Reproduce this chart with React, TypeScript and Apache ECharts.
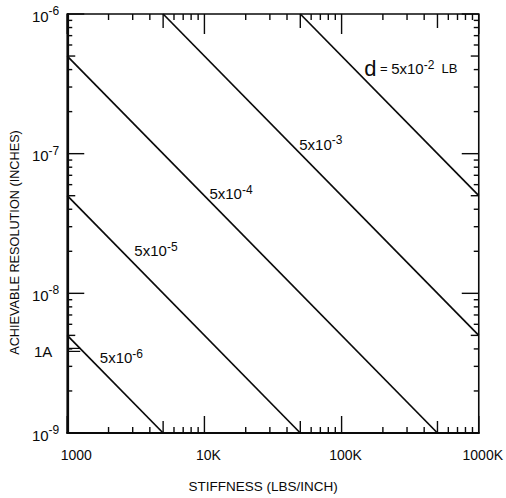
import React, { useEffect, useRef } from "react";
import * as echarts from "echarts";

const FONT = "'Liberation Sans', Arial, sans-serif";

// Axis ranges
const X_MIN = 1000;
const X_MAX = 1000000;
const Y_MIN = 1e-9;
const Y_MAX = 1e-6;

// x tick labels
const xTickLabels: Record<number, string> = { 1000: "1000", 10000: "10K", 100000: "100K", 1000000: "1000K" };

// Line series: endpoints [stiffness, resolution]
const loadNames = ["5x10^-6", "5x10^-5", "5x10^-4", "5x10^-3", "5x10^-2"];
const line6 = [[1000, 5e-9], [5000, 1e-9]];
const line5 = [[1000, 5e-8], [50000, 1e-9]];
const line4 = [[1000, 5e-7], [500000, 1e-9]];
const line3 = [[5000, 1e-6], [1000000, 5e-9]];
const line2 = [[50000, 1e-6], [1000000, 5e-8]];
const lines = [line6, line5, line4, line3, line2];

// Label anchors in data space (stiffness, resolution)
const labelK = [1728, 3085, 10870, 49100, 146000];
const labelR = [3.45e-9, 2.01e-8, 5.15e-8, 1.17e-7, 4.04e-7];
const labelTexts = [
  "{a|5x10}{s|-6}",
  "{a|5x10}{s|-5}",
  "{a|5x10}{s|-4}",
  "{a|5x10}{s|-3}",
  "{d|d}{m| = }{a|5x10}{s|-2}{l|  LB}",
];

// Angstrom marker (1 A = 3.937e-9 inch)
const ANGSTROM_IN = 3.937e-9;

// tick values (decades and 2..9 minors)
const xDecades = [1000, 10000, 100000];
const yDecades = [1e-9, 1e-8, 1e-7];
const mantissas = [1, 2, 3, 4, 5, 6, 7, 8, 9];

function tickValues(decades: number[], last: number) {
  const out: number[] = [];
  decades.forEach((d) => mantissas.forEach((m) => out.push(m * d)));
  out.push(last);
  return out;
}
const xTicks = tickValues(xDecades, X_MAX);
const yTicks = tickValues(yDecades, Y_MAX);

function mantissaOf(v: number) {
  const e = Math.floor(Math.log10(v) + 1e-9);
  return Math.round(v / Math.pow(10, e));
}

const INK = "#0a0a0a";

const rich = {
  a: { fontSize: 15, fontFamily: FONT, color: INK, lineHeight: 20 },
  s: { fontSize: 12, fontFamily: FONT, color: INK, verticalAlign: "top", lineHeight: 20, padding: [0, 0, 8, 0] },
  d: { fontSize: 22, fontFamily: FONT, color: INK, lineHeight: 20 },
  m: { fontSize: 13, fontFamily: FONT, color: INK, lineHeight: 20 },
  l: { fontSize: 13, fontFamily: FONT, color: INK, lineHeight: 20 },
};

const yRich = {
  a: { fontSize: 15, fontFamily: FONT, color: INK, lineHeight: 18, padding: [4, 0, 0, 0] },
  s: { fontSize: 12, fontFamily: FONT, color: INK, verticalAlign: "top", lineHeight: 18, padding: [0, 0, 6, 0] },
};

const xRich = {
  f: { fontSize: 14, fontFamily: FONT, color: INK, padding: [0, 0, 0, 18] },
  n: { fontSize: 14, fontFamily: FONT, color: INK, padding: [0, 0, 0, 8] },
};

export default function App() {
  const ref = useRef<HTMLDivElement>(null);
  useEffect(() => {
    if (!ref.current) return;
    const chart = echarts.init(ref.current, null, { renderer: "svg" });
    const lineSeries = lines.map((pts, i) => ({
      type: "line",
      name: loadNames[i],
      data: pts,
      symbol: "none",
      lineStyle: { color: INK, width: 1.7 },
      z: 3,
    }));
    const option: any = {
      animation: false,
      backgroundColor: "#fff",
      grid: { left: 67, right: 22, top: 14, bottom: 65, show: true, borderColor: INK, borderWidth: 1.6 },
      xAxis: {
        type: "log",
        logBase: 10,
        min: X_MIN,
        max: X_MAX,
        name: "STIFFNESS (LBS/INCH)",
        nameLocation: "middle",
        nameGap: 46,
        nameTextStyle: { fontFamily: FONT, fontSize: 13.5, color: INK, padding: [0, 20, 0, 0] },
        axisLine: { show: true, lineStyle: { color: INK, width: 2.2 } },
        axisTick: { show: false },
        splitLine: { show: false },
        axisLabel: {
          margin: 15,
          fontFamily: FONT,
          fontSize: 14,
          color: INK,
          formatter: (v: number) => {
            const r = Math.round(v);
            const t = xTickLabels[r];
            if (!t) return "";
            return r === X_MIN ? "{f|" + t + "}" : "{n|" + t + "}";
          },
          rich: xRich,
        },
      },
      yAxis: {
        type: "log",
        logBase: 10,
        min: Y_MIN,
        max: Y_MAX,
        name: "ACHIEVABLE RESOLUTION (INCHES)",
        nameLocation: "middle",
        nameGap: 44,
        nameTextStyle: { fontFamily: FONT, fontSize: 12.7, color: INK, padding: [0, 38, 0, 0] },
        axisLine: { show: true, lineStyle: { color: INK, width: 2.2 } },
        axisTick: { show: false },
        splitLine: { show: false },
        axisLabel: {
          margin: 8,
          fontFamily: FONT,
          color: INK,
          formatter: (v: number) => {
            const e = Math.round(Math.log10(v));
            return "{a|10}{s|" + e + "}";
          },
          rich: yRich,
        },
      },
      series: [
        ...lineSeries,
        {
          type: "custom",
          name: "xticks",
          data: xTicks.map((v) => [v, Y_MIN]),
          silent: true,
          z: 4,
          renderItem: (params: any, api: any) => {
            const v = api.value(0);
            const b = api.coord([v, Y_MIN]);
            const t = api.coord([v, Y_MAX]);
            const m = mantissaOf(v);
            const lenB = m === 1 ? 17 : m === 5 ? 12 : 6;
            const lenT = m === 1 ? 20 : m === 5 ? 14 : 6;
            return {
              type: "group",
              children: [
                { type: "line", shape: { x1: b[0], y1: b[1], x2: b[0], y2: b[1] - lenB }, style: { stroke: INK, lineWidth: 1.4 } },
                { type: "line", shape: { x1: t[0], y1: t[1], x2: t[0], y2: t[1] + lenT }, style: { stroke: INK, lineWidth: 1.4 } },
              ],
            };
          },
        },
        {
          type: "custom",
          name: "yticks",
          data: yTicks.map((v) => [X_MIN, v]),
          silent: true,
          z: 4,
          renderItem: (params: any, api: any) => {
            const v = api.value(1);
            const l = api.coord([X_MIN, v]);
            const r = api.coord([X_MAX, v]);
            const m = mantissaOf(v);
            const len = m === 1 ? 17 : m === 5 ? 8 : 5;
            return {
              type: "group",
              children: [
                { type: "line", shape: { x1: l[0], y1: l[1], x2: l[0] + len, y2: l[1] }, style: { stroke: INK, lineWidth: 1.4 } },
                { type: "line", shape: { x1: r[0], y1: r[1], x2: r[0] - len, y2: r[1] }, style: { stroke: INK, lineWidth: 1.4 } },
              ],
            };
          },
        },
        {
          type: "custom",
          name: "angstrom",
          data: [[X_MIN, ANGSTROM_IN]],
          silent: true,
          z: 4,
          renderItem: (params: any, api: any) => {
            const p = api.coord([api.value(0), api.value(1)]);
            return {
              type: "group",
              children: [
                { type: "line", shape: { x1: p[0], y1: p[1] - 1.5, x2: p[0] + 13, y2: p[1] - 1.5 }, style: { stroke: INK, lineWidth: 1.2 } },
                { type: "line", shape: { x1: p[0], y1: p[1] + 1.5, x2: p[0] + 13, y2: p[1] + 1.5 }, style: { stroke: INK, lineWidth: 1.2 } },
                {
                  type: "text",
                  x: p[0] - 15,
                  y: p[1] + 2,
                  style: { text: "1A", fontFamily: FONT, fontSize: 15, fill: INK, align: "right", verticalAlign: "middle" },
                },
              ],
            };
          },
        },
        {
          type: "custom",
          name: "labels",
          data: labelK.map((k, i) => [k, labelR[i], i]),
          silent: true,
          z: 5,
          renderItem: (params: any, api: any) => {
            const p = api.coord([api.value(0), api.value(1)]);
            const i = api.value(2);
            return {
              type: "text",
              x: p[0],
              y: p[1],
              style: { text: labelTexts[i], rich, fill: INK, align: "left", verticalAlign: "middle", fontFamily: FONT },
            };
          },
        },
      ],
    };
    chart.setOption(option);
    return () => chart.dispose();
  }, []);
  return <div ref={ref} style={{ position: "fixed", left: 0, top: 0, width: 506, height: 498 }} />;
}
